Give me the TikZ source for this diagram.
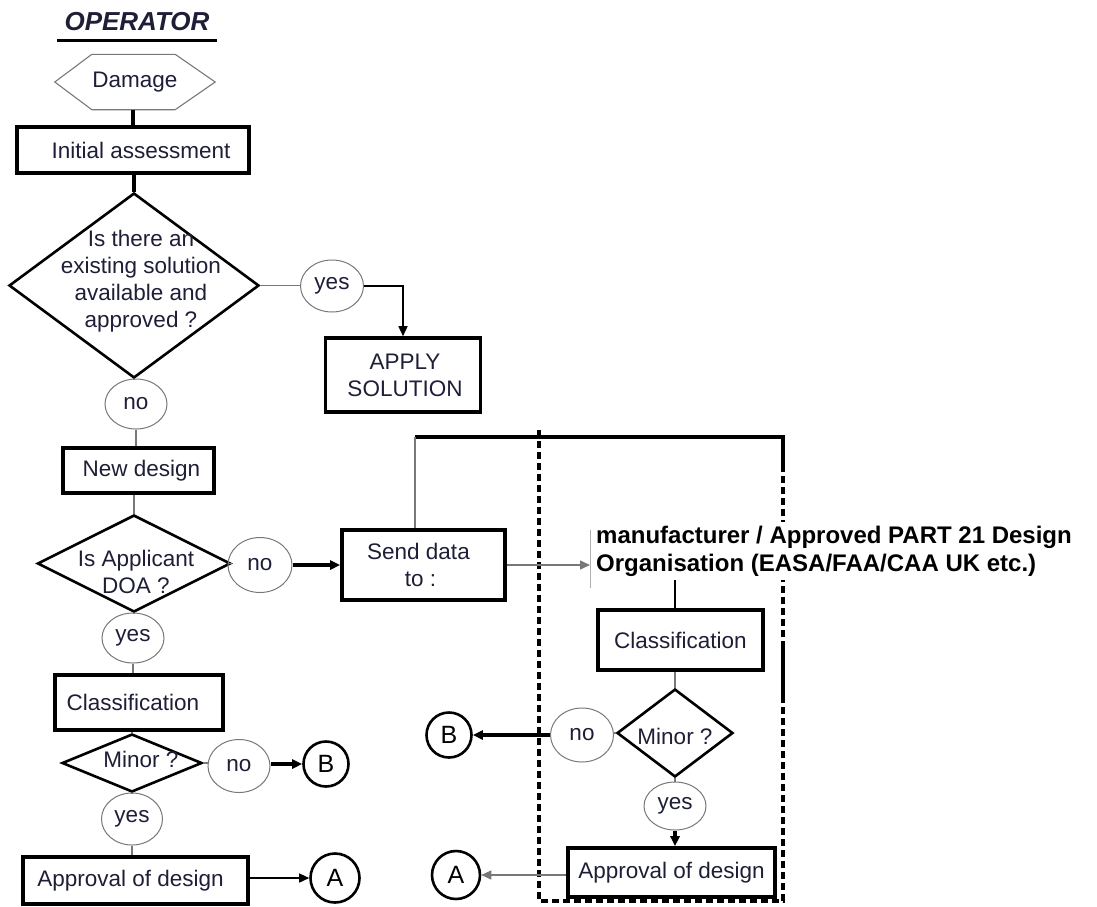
\documentclass[tikz,border=0pt]{standalone}
\usepackage{fontspec}
\setmainfont{Liberation Sans}
\usetikzlibrary{shapes.geometric,arrows.meta,calc}
\definecolor{txtc}{RGB}{30,30,55}
\definecolor{lgray}{RGB}{120,120,120}
\begin{document}
\begin{tikzpicture}[x=1pt,y=-1pt,
  txt/.style={font=\fontsize{22.5}{27}\selectfont, text=txtc, align=center},
  box/.style={draw, line width=3.6pt, inner sep=0pt, txt},
  dia/.style={draw, diamond, line width=2.6pt, inner sep=0pt},
  lab/.style={ellipse, draw=lgray, line width=1pt, inner sep=0pt, txt},
  circ/.style={circle, draw, line width=2.6pt, inner sep=0pt, text=black, font=\fontsize{25}{25}\selectfont},
  conn/.style={draw=lgray, line width=1.4pt},
  thickconn/.style={draw, line width=3.5pt},
  tip/.style={-{Triangle[length=10pt,width=9pt]}},
  frame/.style={draw, line width=4.2pt, dash pattern=on 7pt off 4pt}
]
\useasboundingbox (0,0) rectangle (1097,906);

% title
\node[font=\fontsize{26}{26}\selectfont\bfseries\itshape, text=txtc] (op) at (137,22) {OPERATOR};
\coordinate (ul1) at (57,40);
\coordinate (ul2) at (217,40);
\draw[line width=3pt] (ul1) -- (ul2);

% damage hexagon
\node[minimum width=160pt, minimum height=55pt, inner sep=0pt, txt] (dmg) at (135,82) {Damage};
\draw[draw=lgray, line width=1.1pt] (dmg.west) -- ([xshift=37pt]dmg.north west) -- ([xshift=-40pt]dmg.north east)
  -- (dmg.east) -- ([xshift=-40pt]dmg.south east) -- ([xshift=37pt]dmg.south west) -- cycle;

\node[box, minimum width=232pt, minimum height=46pt] (ia) at (133,150) {\hspace*{16pt}Initial assessment};

% decision 1
\node[dia, minimum width=250pt, minimum height=185pt] (d1) at (134,285.5) {};
\node[txt] (d1t) at (141,281) {Is there an\\existing solution\\available and\\approved ?};
\node[lab, minimum width=63pt, minimum height=52pt] (yes1) at (332,286) {yes};
\node[box, minimum width=155pt, minimum height=74pt] (as) at (403,375) {\hspace*{4pt}APPLY\\\hspace*{4pt}SOLUTION};
\node[lab, minimum width=62pt, minimum height=50pt] (no1) at (136,404) {no};

\node[box, minimum width=151pt, minimum height=45pt] (nd) at (138.5,470.5) {\hspace*{6pt}New design};

% decision 2
\node[dia, minimum width=193pt, minimum height=97pt] (d2) at (134,563.5) {};
\node[txt] (d2t) at (136,572) {Is Applicant\\DOA ?};
\node[lab, minimum width=64pt, minimum height=55pt] (no2) at (260,565) {no};
\node[box, minimum width=163pt, minimum height=70pt] (sd) at (423.5,565) {\hspace*{-10pt}Send data\\\hspace*{-6pt}to :};
\node[lab, minimum width=62pt, minimum height=50pt] (yes2) at (133,638) {yes};

\node[box, minimum width=168pt, minimum height=55pt] (cl1) at (139,702.5) {\hspace*{-12pt}Classification};

% decision 4 (left minor)
\node[dia, minimum width=140pt, minimum height=58pt] (d4) at (132,763) {};
\node[txt] (d4t) at (141,759) {Minor ?};
\node[lab, minimum width=62pt, minimum height=53pt] (no4) at (239,766) {no};
\node[circ, minimum size=45pt] (b1) at (326,764) {B};
\node[lab, minimum width=61pt, minimum height=52pt] (yes4) at (132,819) {yes};
\node[box, minimum width=225pt, minimum height=47pt] (ap1) at (135.5,880.5) {\hspace*{-10pt}Approval of design};
\node[circ, minimum size=49pt] (a1) at (335,878) {A};

% frame
\coordinate (tl) at (415,437);
\coordinate (tr) at (783,437);
\coordinate (fl1) at (539,430);
\coordinate (fl2) at (539,901);
\coordinate (fr2) at (783,901);
\draw[frame] (fl1) -- (fl2) -- (fr2) -- (tr);
\draw[line width=4pt] (tl) -- (tr) -- ++(0,35);
\draw[line width=4pt] (783,643) -- (783,700);
\draw[conn] (tl) -- (tl |- sd.north);

% manufacturer text
\node[fill=white, anchor=west, inner xsep=6pt, inner ysep=4pt, align=left, text=black,
      font=\fontsize{24}{28}\selectfont\bfseries] (mfr) at (590,551)
  {manufacturer / Approved PART 21 Design\\Organisation (EASA/FAA/CAA UK etc.)};
\coordinate (mfrl1) at (590,530);
\coordinate (mfrl2) at (590,588);
\draw[draw=lgray!60, line width=0.8pt] (mfrl1) -- (mfrl2);

% right column
\node[box, minimum width=165pt, minimum height=60pt] (cl2) at (680.5,640) {Classification};
\node[dia, minimum width=116pt, minimum height=88pt] (d3) at (675,733) {};
\node[txt] (d3t) at (675,736) {Minor ?};
\node[lab, minimum width=63pt, minimum height=54pt] (no3) at (582,735) {no};
\node[circ, minimum size=45pt] (b2) at (449,735) {B};
\node[lab, minimum width=62pt, minimum height=48pt] (yes3) at (675,806) {yes};
\node[box, minimum width=207pt, minimum height=49pt] (ap2) at (671.5,872.5) {Approval of design};
\node[circ, minimum size=48pt] (a2) at (456,875) {A};

% connectors
\draw[thickconn] (ia.north |- dmg.south) -- (ia.north);
\draw[thickconn] (d1.north |- ia.south) -- (d1.north);
\draw[conn] (d1.east) -- (yes1.west |- d1.east);
\draw[line width=1.5pt, tip] (yes1.east) -| (as.north);
\draw[conn] (d1.south) -- (no1.north -| d1.south);
\draw[conn] (no1.south) -- (no1.south |- nd.north);
\draw[conn] (d2.north |- nd.south) -- (d2.north);
\draw[conn] (d2.east) -- (no2.west |- d2.east);
\draw[line width=3.2pt, tip] (no2.east |- sd.west) -- (sd.west);
\draw[conn] (d2.south) -- (yes2.north -| d2.south);
\draw[conn] (yes2.south) -- (yes2.south |- cl1.north);
\draw[conn] (d4.north |- cl1.south) -- (d4.north);
\draw[conn] (d4.east) -- (no4.west |- d4.east);
\draw[line width=3.2pt, tip] (no4.east |- b1.west) -- (b1.west);
\draw[conn] (d4.south) -- (yes4.north -| d4.south);
\draw[conn] (yes4.south) -- (yes4.south |- ap1.north);
\draw[line width=1.5pt, tip] (ap1.east |- a1.west) -- (a1.west);

\draw[conn, tip] (sd.east) -- (sd.east -| mfr.west);
\draw[line width=1.6pt] (cl2.north -| d3.north) -- (d3.north |- mfr.south);
\draw[conn] (d3.north |- cl2.south) -- (d3.north);
\draw[conn] (d3.west) -- (no3.east |- d3.west);
\draw[line width=3.2pt, tip] (no3.west |- b2.east) -- (b2.east);
\draw[conn] (d3.south) -- (yes3.north);
\draw[line width=3.2pt, tip] (yes3.south) -- (yes3.south |- ap2.north);
\draw[conn, tip] (ap2.west |- a2.east) -- (a2.east);
\end{tikzpicture}
\end{document}
